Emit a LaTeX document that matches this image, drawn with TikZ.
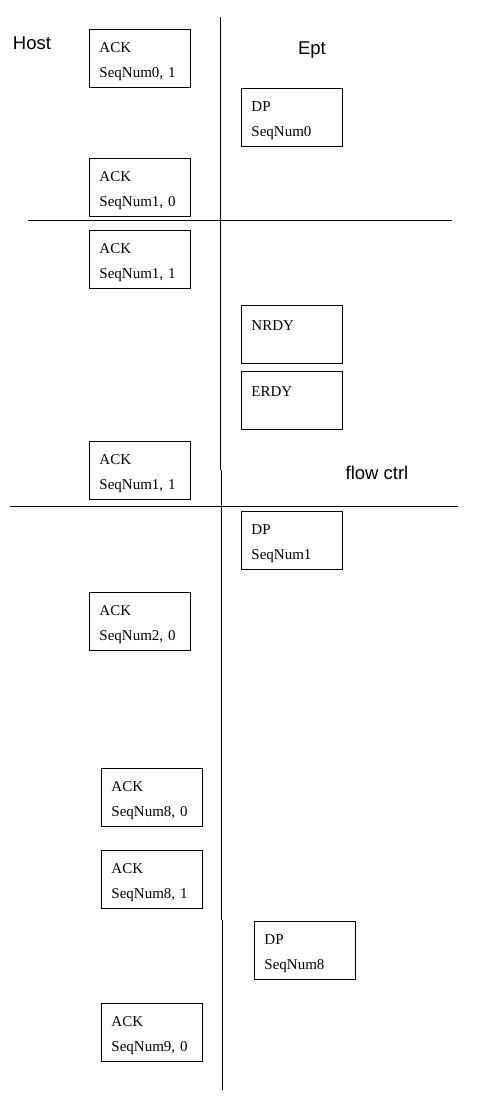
\documentclass[tikz,border=0pt]{standalone}
\usepackage{fontspec}
\setmainfont{Liberation Serif}
\newfontfamily\labelfont{Liberation Sans}
\usetikzlibrary{positioning}

\begin{document}
\begin{tikzpicture}[x=1pt, y=-1pt, line width=0.9pt]
    % Styles
    \tikzstyle{pkt} = [rectangle, draw, anchor=north west, minimum width=101pt, minimum height=58pt, text width=81pt, align=left, inner sep=0pt, font=\fontsize{15}{25}\selectfont, execute at begin node={\rule{0pt}{17pt}}]
    \tikzstyle{side} = [font=\labelfont\fontsize{18.5}{20}\selectfont]
    \tikzstyle{line} = [draw, line width=0.9pt]

    \useasboundingbox (0,0) rectangle (477,1103);

    % Labels
    \node [side] (host) at (32,43) {Host};
    \node [side] (ept) at (312,50) {Ept};
    \node [side] (flow) at (377,473) {flow ctrl};

    % Host side
    \node [pkt] (ack01) at (89,29) {ACK\\SeqNum0, 1};
    \node [pkt] (ack10) at (89,158) {ACK\\SeqNum1, 0};
    \node [pkt] (ack11a) at (89,230) {ACK\\SeqNum1, 1};
    \node [pkt] (ack11b) at (89,441) {ACK\\SeqNum1, 1};
    \node [pkt] (ack20) at (89,592) {ACK\\SeqNum2, 0};
    \node [pkt] (ack80) at (101,768) {ACK\\SeqNum8, 0};
    \node [pkt, below=23pt of ack80.south west, anchor=north west] (ack81) {ACK\\SeqNum8, 1};
    \node [pkt] (ack90) at (101,1003) {ACK\\SeqNum9, 0};

    % Ept side
    \node [pkt] (dp0) at (241,88) {DP\\SeqNum0};
    \node [pkt] (nrdy) at (241,305) {NRDY\\\mbox{}};
    \node [pkt, below=7pt of nrdy.south west, anchor=north west] (erdy) {ERDY\\\mbox{}};
    \node [pkt] (dp1) at (241,511) {DP\\SeqNum1};
    \node [pkt] (dp8) at (254,921) {DP\\SeqNum8};

    % Separators
    \coordinate (v0) at (220,17);
    \coordinate (v1) at (220,470);
    \coordinate (v2) at (221,470);
    \coordinate (v3) at (221,920);
    \coordinate (v4) at (222,920);
    \coordinate (v5) at (222,1090);
    \coordinate (h0) at (28,220);
    \coordinate (h1) at (452,220);
    \coordinate (h2) at (10,506);
    \coordinate (h3) at (458,506);

    \path [line] (v0) -- (v1);
    \path [line] (v2) -- (v3);
    \path [line] (v4) -- (v5);
    \path [line] (h0) -- (h1);
    \path [line] (h2) -- (h3);

\end{tikzpicture}
\end{document}
